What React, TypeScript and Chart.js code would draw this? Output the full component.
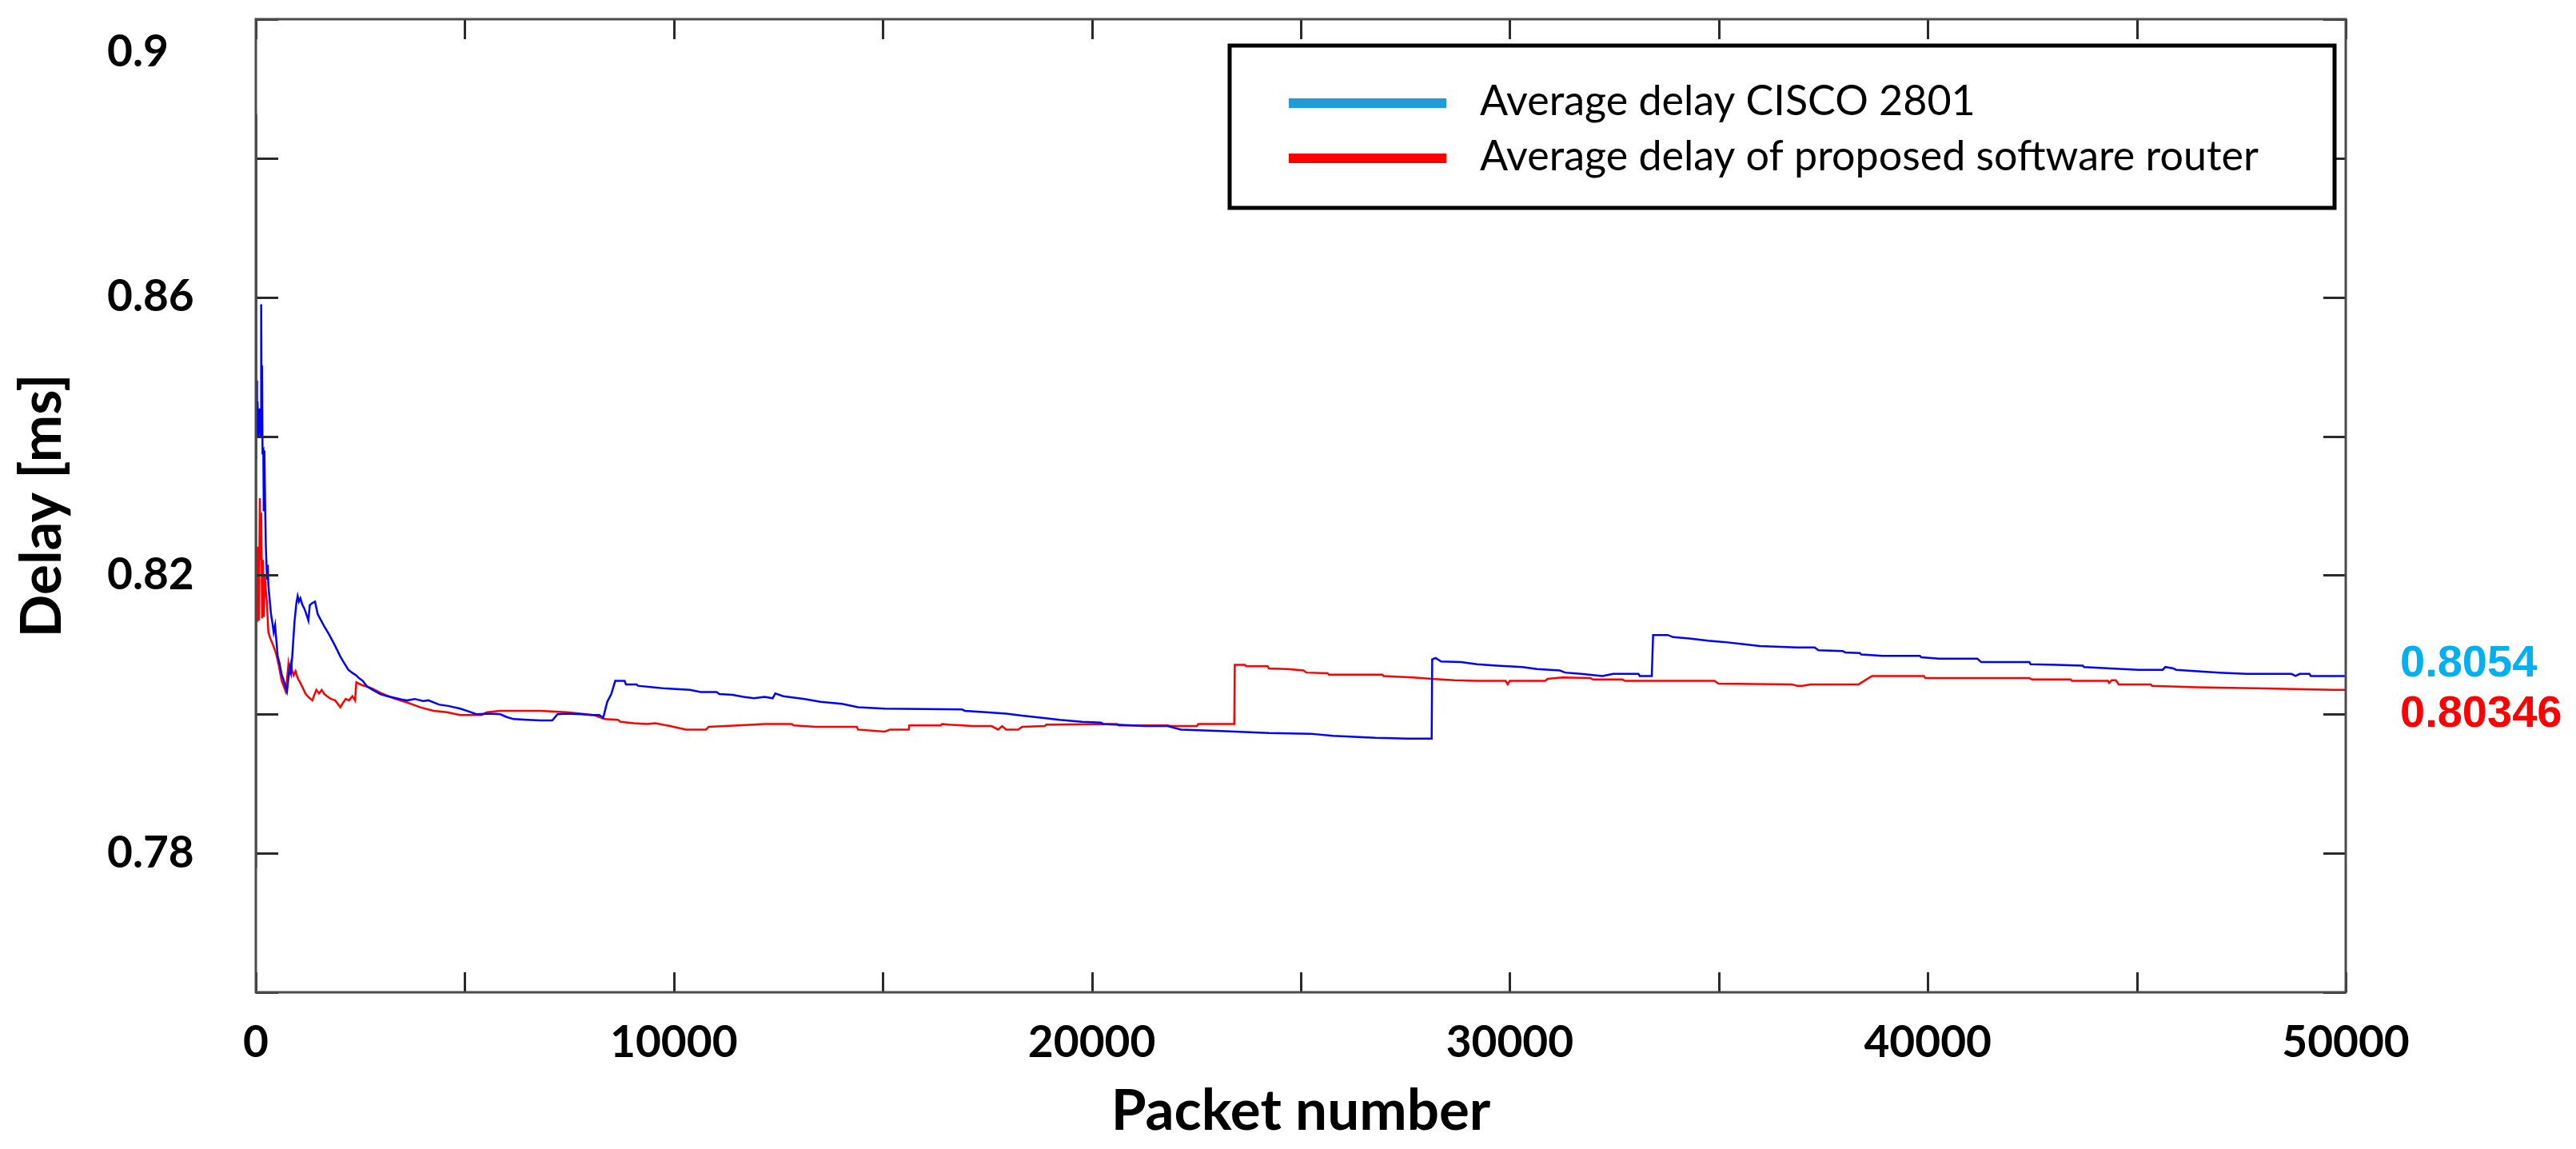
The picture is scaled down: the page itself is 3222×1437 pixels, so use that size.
import React, { useEffect, useRef } from 'react';
import { Chart, registerables } from 'chart.js';

Chart.register(...registerables);

const seriesLabels = ['Average delay CISCO 2801', 'Average delay of proposed software router'];
const lineColors = ['#0000ff', '#ff0000'];
const legendColors = ['#1f9bd7', '#ff0000'];

const ciscoPackets = [
  1, 4, 8, 14, 20, 28, 40, 60, 90, 115, 128, 140, 147, 160, 179, 190, 205, 224, 240, 268, 285, 300, 320,
  363, 400, 427, 460, 490, 523, 560, 618, 660, 714, 745, 780, 810, 840, 873, 900, 925, 970, 1000, 1030,
  1065, 1110, 1160, 1220, 1257, 1290, 1350, 1416, 1480, 1560, 1640, 1700, 1740, 1830, 1900, 2022, 2100,
  2213, 2300, 2400, 2468, 2560, 2659, 2800, 2978, 3150, 3360, 3500, 3615, 3800, 4000, 4126, 4380, 4600,
  4890, 5100, 5274, 5600, 5848, 6000, 6166, 6500, 6805, 7091, 7218, 7400, 7793, 8024, 8215, 8311, 8407,
  8503, 8598, 8822, 8854, 9109, 9141, 9492, 9811, 10386, 10641, 11024, 11088, 11407, 11662, 11917, 12173,
  12364, 12428, 12620, 13130, 13513, 14024, 14407, 15045, 16896, 16960, 17471, 17950, 18333, 18812, 19227,
  19769, 20216, 20280, 21269, 21812, 22131, 23088, 24237, 25227, 25769, 26790, 27557, 28131, 28144, 28227,
  28355, 28834, 29217, 29695, 30302, 30653, 31195, 31323, 31706, 32217, 32472, 33078, 33110, 33397, 33429,
  33780, 33908, 34291, 34738, 35121, 35568, 35983, 36877, 37292, 37387, 37962, 38026, 38377, 38408, 38919,
  39813, 39845, 40260, 41185, 41281, 42430, 42462, 43100, 43707, 43738, 44377, 45047, 45622, 45686, 45877,
  45941, 46962, 47632, 48700, 48800, 48900, 49132, 49164, 50000,
];
const ciscoDelay = [
  0.8863, 0.8368, 0.8512, 0.8401, 0.848, 0.841, 0.845, 0.84, 0.844, 0.84, 0.859, 0.8399, 0.8502, 0.8378,
  0.838, 0.8292, 0.8379, 0.8292, 0.824, 0.8195, 0.8215, 0.8185, 0.8172, 0.8144, 0.813, 0.8118, 0.8128,
  0.8107, 0.8083, 0.8075, 0.8057, 0.805, 0.8039, 0.8033, 0.8052, 0.8068, 0.806, 0.8085, 0.811, 0.8133,
  0.816, 0.817, 0.8162, 0.8167, 0.8158, 0.8152, 0.8142, 0.8135, 0.8157, 0.816, 0.8162, 0.8144, 0.8135,
  0.8126, 0.812, 0.8116, 0.8106, 0.8098, 0.8083, 0.8075, 0.8064, 0.806, 0.8056, 0.8052, 0.8048, 0.804,
  0.8035, 0.8029, 0.8026, 0.8023, 0.8021, 0.802, 0.8022, 0.8019, 0.802, 0.8014, 0.8012, 0.8008, 0.8004,
  0.8, 0.8001, 0.8, 0.7996, 0.7993, 0.7992, 0.7991, 0.7991, 0.8, 0.8001, 0.8, 0.7999, 0.7999, 0.7995,
  0.8018, 0.8029, 0.8048, 0.8048, 0.8043, 0.8043, 0.8041, 0.8039, 0.8037, 0.8035, 0.8032, 0.8032, 0.8029,
  0.8028, 0.8025, 0.8023, 0.8025, 0.8023, 0.803, 0.8026, 0.8022, 0.8018, 0.8015, 0.801, 0.8008, 0.8007,
  0.8005, 0.8003, 0.8001, 0.7998, 0.7995, 0.7992, 0.7989, 0.7988, 0.7986, 0.7983, 0.7983, 0.7978, 0.7976,
  0.7973, 0.7972, 0.7969, 0.7966, 0.7965, 0.7965, 0.8079, 0.8081, 0.8076, 0.8075, 0.8072, 0.807, 0.8068,
  0.8065, 0.8063, 0.806, 0.8058, 0.8055, 0.8058, 0.8058, 0.8055, 0.8055, 0.8114, 0.8114, 0.8111, 0.8109,
  0.8106, 0.8104, 0.8101, 0.8098, 0.8096, 0.8096, 0.8092, 0.8091, 0.8089, 0.8088, 0.8086, 0.8084, 0.8084,
  0.8082, 0.808, 0.808, 0.8075, 0.8075, 0.8072, 0.8071, 0.807, 0.8068, 0.8066, 0.8064, 0.8064, 0.8068,
  0.8066, 0.8064, 0.806, 0.8058, 0.8058, 0.8055, 0.8058, 0.8058, 0.8055, 0.8055,
];

const routerPackets = [
  1, 4, 10, 20, 35, 50, 70, 95, 110, 130, 150, 172, 190, 215, 236, 260, 300, 340, 395, 440, 490, 550, 618,
  670, 714, 745, 778, 800, 840, 870, 905, 950, 1000, 1065, 1130, 1193, 1270, 1352, 1400, 1448, 1510, 1575,
  1640, 1703, 1800, 1895, 1960, 2022, 2080, 2150, 2230, 2310, 2373, 2405, 2532, 2650, 2787, 2978, 3297,
  3615, 3935, 4253, 4571, 4890, 5400, 5530, 5848, 6805, 7440, 8080, 8343, 8662, 8726, 9045, 9364, 9556,
  9907, 10290, 10769, 10833, 11535, 12173, 12811, 12875, 13386, 14375, 14407, 15045, 15173, 15620, 15633,
  16386, 16418, 16577, 17152, 17599, 17759, 17854, 17950, 18237, 18333, 18876, 18907, 20599, 20650, 21812,
  21876, 22514, 22546, 23408, 23420, 23663, 23695, 24206, 24237, 24684, 25067, 25131, 25642, 25673, 26950,
  26982, 27685, 28131, 28674, 29217, 29900, 29950, 30000, 30844, 30908, 31259, 31929, 31993, 32695, 32759,
  34897, 34993, 36749, 36877, 37004, 37196, 38345, 38664, 39909, 39941, 42430, 42494, 43419, 43451, 44313,
  44340, 44400, 44500, 44568, 45334, 45366, 46420, 48079, 49707, 50000,
];
const routerDelay = [
  0.778, 0.8369, 0.805, 0.8241, 0.8133, 0.8241, 0.8135, 0.8311, 0.8222, 0.829, 0.8138, 0.8222, 0.814, 0.82,
  0.818, 0.8165, 0.8118, 0.811, 0.8102, 0.8095, 0.8086, 0.807, 0.8048, 0.804, 0.8033, 0.805, 0.8071, 0.806,
  0.8073, 0.8062, 0.8056, 0.8062, 0.8052, 0.8045, 0.8037, 0.8029, 0.8024, 0.802, 0.8028, 0.8035, 0.803,
  0.8035, 0.8029, 0.8026, 0.8022, 0.802, 0.8015, 0.801, 0.8016, 0.8022, 0.802, 0.8026, 0.802, 0.8046,
  0.8042, 0.804, 0.8037, 0.8031, 0.8023, 0.8017, 0.801, 0.8005, 0.8003, 0.7999, 0.7999, 0.8003, 0.8005,
  0.8005, 0.8003, 0.7999, 0.7993, 0.7992, 0.7989, 0.7987, 0.7986, 0.7987, 0.7983, 0.7978, 0.7978, 0.7982,
  0.7984, 0.7986, 0.7986, 0.7984, 0.7982, 0.7982, 0.7978, 0.7975, 0.7978, 0.7978, 0.7984, 0.7984, 0.7986,
  0.7985, 0.7983, 0.7983, 0.7978, 0.7983, 0.7978, 0.7978, 0.7982, 0.7983, 0.7985, 0.7986, 0.7984, 0.7984,
  0.7983, 0.7983, 0.7986, 0.7986, 0.8071, 0.8071, 0.8069, 0.8069, 0.8066, 0.8065, 0.8063, 0.806, 0.8059,
  0.8057, 0.8057, 0.8055, 0.8053, 0.8051, 0.8049, 0.8048, 0.8048, 0.8043, 0.8048, 0.8048, 0.8051, 0.8053,
  0.8052, 0.805, 0.805, 0.8048, 0.8048, 0.8044, 0.8043, 0.8041, 0.8041, 0.8043, 0.8043, 0.8055, 0.8055,
  0.8052, 0.8052, 0.805, 0.805, 0.8048, 0.8048, 0.8045, 0.8049, 0.8049, 0.8043, 0.8043, 0.8041, 0.8039,
  0.8037, 0.8035, 0.8035,
];

const xTickValues = [0, 10000, 20000, 30000, 40000, 50000];
const xTickLabels = ['0', '10000', '20000', '30000', '40000', '50000'];
const yTickValues = [0.78, 0.82, 0.86, 0.9];
const yTickLabels = ['0.78', '0.82', '0.86', '0.9'];
const yMin = 0.76;
const yMax = 0.9;
const endValues = [0.8054, 0.80346];
const endLabels = ['0.8054', '0.80346'];
const endColors = ['#00b0f0', '#ff0000'];

const xTitle = 'Packet number';
const yTitle = 'Delay [ms]';

const framePlugin = {
  id: 'frameTicks',
  afterDatasetsDraw(chart: any) {
    const { ctx, chartArea } = chart;
    const { left, right, top, bottom } = chartArea;
    const xs = chart.scales.x;
    const ys = chart.scales.y;
    ctx.save();
    ctx.strokeStyle = '#2a2a2a';
    ctx.lineWidth = 3;
    ctx.beginPath();
    xs.ticks.forEach((t: any) => {
      const px = Math.round(xs.getPixelForValue(t.value)) + 0.5;
      ctx.moveTo(px, bottom);
      ctx.lineTo(px, bottom - 25);
      ctx.moveTo(px, top);
      ctx.lineTo(px, top + 25);
    });
    ys.ticks.forEach((t: any) => {
      const py = Math.round(ys.getPixelForValue(t.value)) + 0.5;
      ctx.moveTo(left, py);
      ctx.lineTo(left + 28, py);
      ctx.moveTo(right, py);
      ctx.lineTo(right - 28, py);
    });
    ctx.stroke();
    ctx.strokeStyle = '#4a4a4a';
    ctx.lineWidth = 3;
    ctx.strokeRect(left, top, right - left, bottom - top);
    ctx.restore();
  },
  afterDraw(chart: any) {
    const { ctx, chartArea } = chart;
    const ys = chart.scales.y;
    ctx.save();
    // legend box
    const bx = chartArea.right - 1396;
    const by = chartArea.top + 33;
    const bw = 1382;
    const bh = 203;
    ctx.fillStyle = '#ffffff';
    ctx.fillRect(bx, by, bw, bh);
    ctx.strokeStyle = '#000000';
    ctx.lineWidth = 5;
    ctx.strokeRect(bx, by, bw, bh);
    const rows = [72, 141];
    chart.data.datasets.forEach((ds: any, i: number) => {
      const cy = by + rows[i];
      ctx.strokeStyle = legendColors[i];
      ctx.lineWidth = 12;
      ctx.beginPath();
      ctx.moveTo(bx + 74, cy);
      ctx.lineTo(bx + 271, cy);
      ctx.stroke();
      ctx.fillStyle = '#000000';
      ctx.font = '52px Lato';
      ctx.textAlign = 'left';
      ctx.textBaseline = 'middle';
      ctx.fillText(ds.label, bx + 313, cy - 2);
    });
    // end value labels
    const offsets = [-16, 30];
    ctx.font = 'bold 56px "Liberation Sans"';
    ctx.textAlign = 'left';
    ctx.textBaseline = 'middle';
    endLabels.forEach((lab, i) => {
      ctx.fillStyle = endColors[i];
      ctx.fillText(lab, chartArea.right + 68, ys.getPixelForValue(endValues[i]) + offsets[i]);
    });
    ctx.restore();
  },
};

export default function App() {
  const ref = useRef<HTMLCanvasElement | null>(null);
  useEffect(() => {
    document.body.style.margin = '0';
    document.body.style.overflow = 'hidden';
    if (!ref.current) return;
    const chart = new Chart(ref.current, {
      type: 'line',
      data: {
        datasets: [
          {
            label: seriesLabels[0],
            data: ciscoPackets.map((x, i) => ({ x, y: ciscoDelay[i] })),
            borderColor: lineColors[0],
            borderWidth: 2.5,
            pointRadius: 0,
            tension: 0,
            fill: false,
          },
          {
            label: seriesLabels[1],
            data: routerPackets.map((x, i) => ({ x, y: routerDelay[i] })),
            borderColor: lineColors[1],
            borderWidth: 2.5,
            pointRadius: 0,
            tension: 0,
            fill: false,
          },
        ],
      },
      options: {
        animation: false,
        responsive: true,
        maintainAspectRatio: false,
        devicePixelRatio: 1,
        layout: { padding: { left: 134, top: 24, right: 288, bottom: 0 } },
        plugins: {
          legend: { display: false },
          tooltip: { enabled: false },
        },
        scales: {
          x: {
            type: 'linear',
            min: 0,
            max: 50000,
            afterFit: (s: any) => {
              s.height = 196;
            },
            grid: { display: false },
            border: { display: false },
            ticks: {
              stepSize: 5000,
              autoSkip: false,
              maxRotation: 0,
              padding: 22,
              color: '#000000',
              font: { family: 'Lato', weight: 'bold', size: 55 },
              callback: (v: any) => {
                const i = xTickValues.findIndex((t) => Math.abs(t - Number(v)) < 1e-6);
                return i >= 0 ? xTickLabels[i] : '';
              },
            },
            title: {
              display: true,
              text: xTitle,
              color: '#000000',
              font: { family: 'Lato', weight: 'bold', size: 71 },
              padding: { top: 0, bottom: 4 },
            },
          },
          y: {
            type: 'linear',
            min: yMin,
            max: yMax,
            afterFit: (s: any) => {
              s.width = 186;
              s.paddingTop = 0;
              s.paddingBottom = 0;
            },
            grid: { display: false },
            border: { display: false },
            ticks: {
              stepSize: 0.02,
              autoSkip: false,
              padding: 0,
              crossAlign: 'far',
              color: '#000000',
              font: { family: 'Lato', weight: 'bold', size: 55, lineHeight: 1.5 },
              callback: (v: any) => {
                const i = yTickValues.findIndex((t) => Math.abs(t - Number(v)) < 1e-6);
                if (i < 0) return '';
                // the top label sits just below the axis corner
                return Math.abs(Number(v) - yMax) < 1e-6 ? ['', yTickLabels[i]] : yTickLabels[i];
              },
            },
            title: {
              display: true,
              text: yTitle,
              color: '#000000',
              font: { family: 'Lato', weight: 'bold', size: 71 },
              padding: { top: -123, bottom: 0 },
            },
          },
        },
      },
      plugins: [framePlugin],
    } as any);
    return () => chart.destroy();
  }, []);
  return (
    <div style={{ width: '3222px', height: '1437px', position: 'relative', background: '#ffffff' }}>
      <canvas ref={ref} />
    </div>
  );
}
